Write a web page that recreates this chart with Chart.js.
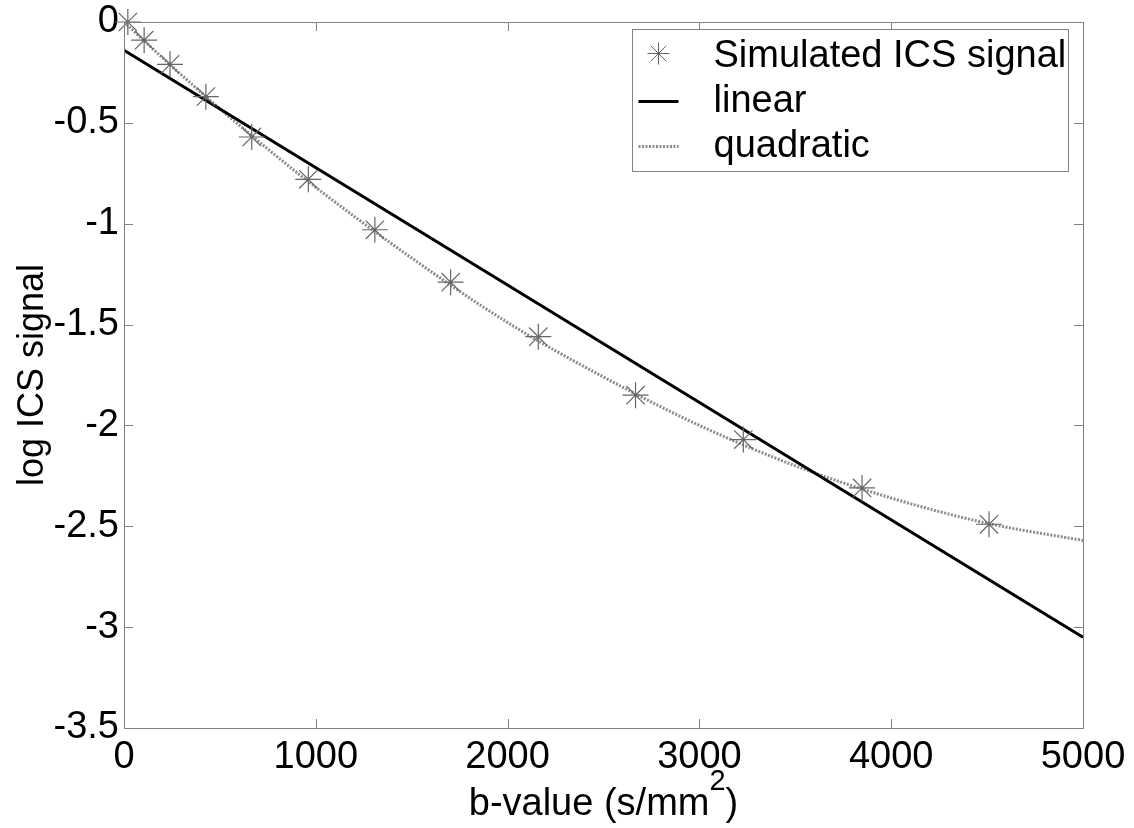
<!DOCTYPE html>
<html>
<head>
<meta charset="utf-8">
<script src="https://cdn.jsdelivr.net/npm/chart.js@4.4.1/dist/chart.umd.min.js"></script>
<style>
  html, body { margin: 0; padding: 0; background: #fff; }
</style>
</head>
<body>
<canvas id="ics_chart" width="1134" height="828"></canvas>
<script>
// values
const b_values = [20, 105, 240, 427, 666, 961, 1308, 1703, 2160, 2667, 3229, 3848, 4510];
const ics_signal = [0, -0.09, -0.21, -0.37, -0.57, -0.78, -1.03, -1.29, -1.56, -1.85, -2.07, -2.31, -2.49];
const linear_b = [0, 5000];
const linear_fit = [-0.14, -3.05];
const quad_b = [0, 250, 500, 750, 1000, 1500, 2000, 2500, 3000, 3500, 4000, 4500, 5000];
const quad_fit = [0, -0.22, -0.43, -0.63, -0.82, -1.17, -1.49, -1.76, -2.0, -2.2, -2.36, -2.485, -2.57];
const x_ticks = [0, 1000, 2000, 3000, 4000, 5000];
const y_ticks = [0, -0.5, -1, -1.5, -2, -2.5, -3, -3.5];
const x_title = ["b-value (s/mm", "2", ")"];

const FONT = "'Liberation Sans', Arial, Helvetica, sans-serif";
const AXIS_GRAY = "#808080";

Chart.defaults.font.family = FONT;
Chart.defaults.font.size = 38;
Chart.defaults.color = "#000";

function toPoints(xs, ys) {
  return xs.map(function(x, i) { return { x: x, y: ys[i] }; });
}

// MATLAB style box with inward ticks on all four sides
const matlab_box = {
  id: "matlab_box",
  afterDatasetsDraw(chart) {
    const { ctx, chartArea: a, scales: { x, y } } = chart;
    const tick_len = 9;
    ctx.save();
    ctx.strokeStyle = AXIS_GRAY;
    ctx.lineWidth = 1;
    ctx.beginPath();
    x.ticks.forEach(function(t) {
      const px = Math.round(x.getPixelForValue(t.value)) + 0.5;
      ctx.moveTo(px, a.bottom); ctx.lineTo(px, a.bottom - tick_len);
      ctx.moveTo(px, a.top); ctx.lineTo(px, a.top + tick_len);
    });
    y.ticks.forEach(function(t) {
      const py = Math.round(y.getPixelForValue(t.value)) + 0.5;
      ctx.moveTo(a.left, py); ctx.lineTo(a.left + tick_len, py);
      ctx.moveTo(a.right, py); ctx.lineTo(a.right - tick_len, py);
    });
    ctx.stroke();
    ctx.strokeRect(Math.round(a.left) + 0.5, Math.round(a.top) + 0.5,
      Math.round(a.right - a.left), Math.round(a.bottom - a.top));
    ctx.restore();
  }
};

// x axis title with a real superscript
const sup_title = {
  id: "sup_title",
  afterDraw(chart) {
    const { ctx, chartArea: a } = chart;
    const big = "38px " + FONT, small = "29px " + FONT;
    const base = a.bottom + 87;
    ctx.save();
    ctx.fillStyle = "#000";
    ctx.textBaseline = "alphabetic";
    ctx.textAlign = "left";
    ctx.font = big;
    const w0 = ctx.measureText(x_title[0]).width;
    const w2 = ctx.measureText(x_title[2]).width;
    ctx.font = small;
    const w1 = ctx.measureText(x_title[1]).width;
    let x = (a.left + a.right) / 2 - (w0 + w1 + w2) / 2;
    ctx.font = big;
    ctx.fillText(x_title[0], x, base);
    x += w0;
    ctx.font = small;
    ctx.fillText(x_title[1], x, base - 25);
    x += w1;
    ctx.font = big;
    ctx.fillText(x_title[2], x, base);
    ctx.restore();
  }
};

// boxed legend inside the axes, top right
const boxed_legend = {
  id: "boxed_legend",
  afterDraw(chart) {
    const { ctx, chartArea: a } = chart;
    const w = 436, h = 142;
    const left = Math.round(a.right - 15 - w) + 0.5;
    const top = Math.round(a.top + 7) + 0.5;
    const row_h = 45;
    ctx.save();
    ctx.fillStyle = "#fff";
    ctx.fillRect(left, top, w, h);
    ctx.strokeStyle = AXIS_GRAY;
    ctx.lineWidth = 1;
    ctx.strokeRect(left, top, w, h);
    chart.data.datasets.forEach(function(ds, i) {
      const cy = top + 27 + i * row_h;
      if (ds.showLine) {
        ctx.save();
        ctx.strokeStyle = ds.borderColor;
        ctx.lineWidth = ds.borderWidth;
        ctx.setLineDash(ds.borderDash || []);
        ctx.beginPath();
        ctx.moveTo(left + 6, cy);
        ctx.lineTo(left + 46, cy);
        ctx.stroke();
        ctx.restore();
      } else {
        ctx.strokeStyle = ds.borderColor;
        Chart.helpers.drawPoint(ctx, { pointStyle: "star", radius: 11, borderWidth: 1, rotation: 0 }, left + 26, cy - 3);
      }
      ctx.fillStyle = "#000";
      ctx.font = "38px " + FONT;
      ctx.textBaseline = "middle";
      ctx.textAlign = "left";
      ctx.fillText(ds.label, left + 81, cy);
    });
    ctx.restore();
  }
};

new Chart("ics_chart", {
  type: "scatter",
  data: {
    datasets: [{
      label: "Simulated ICS signal",
      data: toPoints(b_values, ics_signal),
      showLine: false,
      pointStyle: "star",
      pointRadius: 13,
      pointBorderWidth: 1.2,
      borderColor: "#666",
      backgroundColor: "#666",
      clip: false
    }, {
      label: "linear",
      data: toPoints(linear_b, linear_fit),
      showLine: true,
      borderColor: "#000",
      borderWidth: 3,
      pointRadius: 0
    }, {
      label: "quadratic",
      data: toPoints(quad_b, quad_fit),
      showLine: true,
      borderColor: "#8c8c8c",
      borderWidth: 3,
      borderDash: [2, 1.5],
      cubicInterpolationMode: "monotone",
      pointRadius: 0
    }]
  },
  options: {
    responsive: false,
    devicePixelRatio: 1,
    animation: false,
    layout: { padding: { left: 0, top: 22, right: 51, bottom: 0 } },
    plugins: {
      legend: { display: false },
      tooltip: { enabled: false }
    },
    scales: {
      x: {
        type: "linear",
        min: 0,
        max: 5000,
        afterBuildTicks: function(scale) { scale.ticks = x_ticks.map(v => ({ value: v })); },
        afterFit: function(scale) {
          scale.height = 100;
          scale.paddingLeft = 0;
          scale.paddingRight = 0;
        },
        grid: { display: false, drawTicks: false },
        border: { display: false },
        ticks: { padding: 7, maxRotation: 0, callback: v => String(v) },
        title: { display: false }
      },
      y: {
        type: "linear",
        min: -3.5,
        max: 0,
        afterBuildTicks: function(scale) { scale.ticks = y_ticks.map(v => ({ value: v })); },
        afterFit: function(scale) {
          scale.width = 124;
          scale.paddingTop = 0;
          scale.paddingBottom = 0;
        },
        grid: { display: false, drawTicks: false },
        border: { display: false },
        ticks: { padding: 5, callback: v => String(v) },
        title: { display: true, text: "log ICS signal", font: { size: 36 }, padding: { top: 11, bottom: 0 } }
      }
    }
  },
  plugins: [matlab_box, sup_title, boxed_legend]
});
</script>
</body>
</html>
